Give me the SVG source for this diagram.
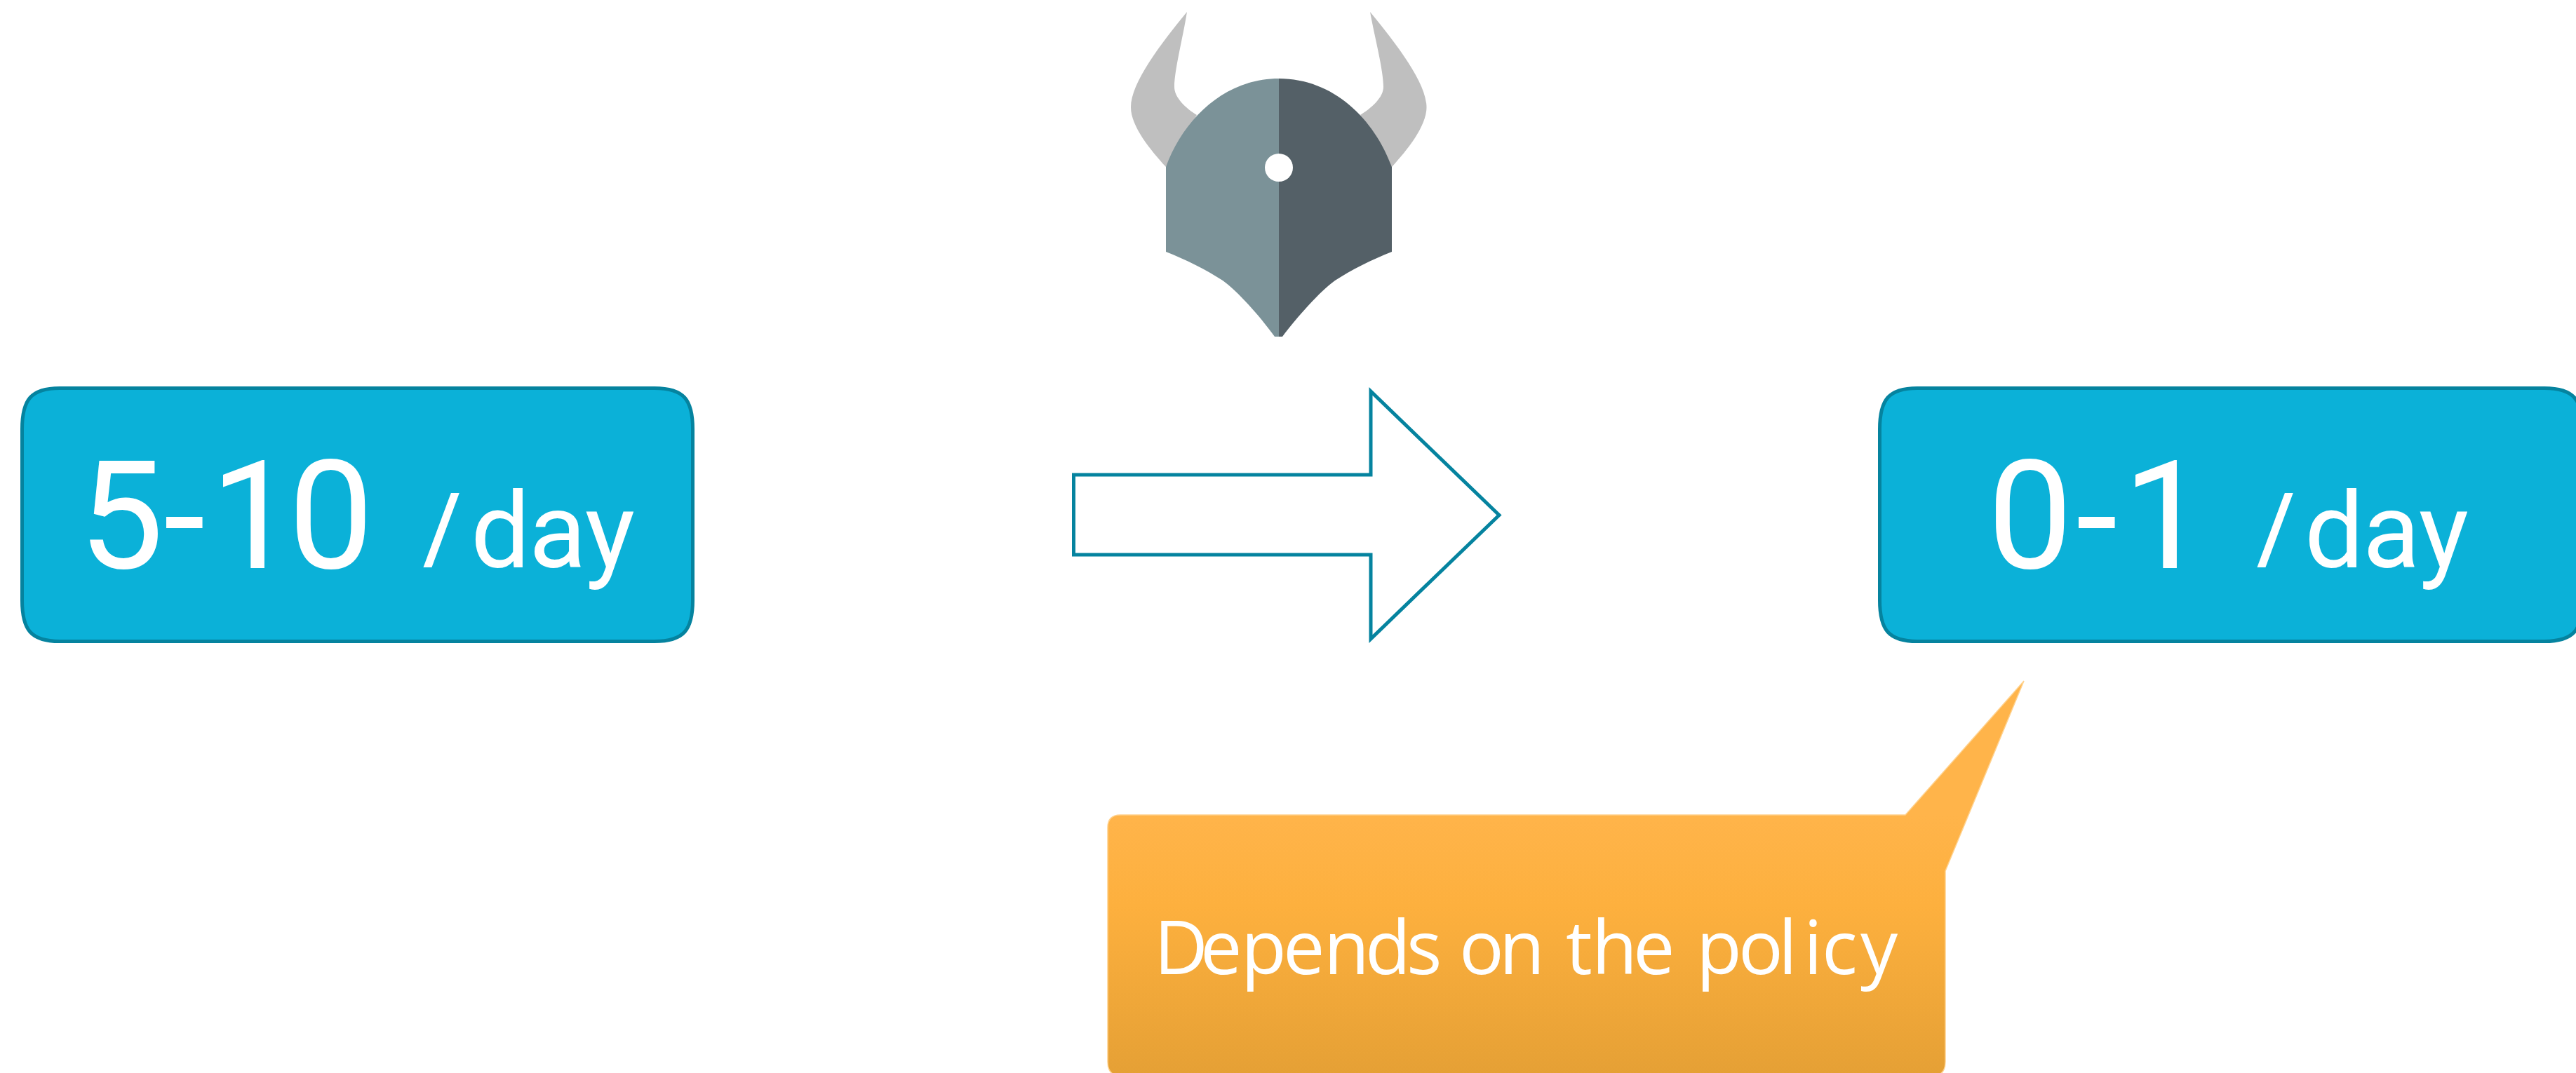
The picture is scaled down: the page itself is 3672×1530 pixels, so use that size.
<svg xmlns="http://www.w3.org/2000/svg" width="3672" height="1530" viewBox="0 0 3672 1530">
<style>
text{fill:#fff}
.big{font-family:Roboto,"Open Sans",sans-serif;font-size:216px}
.small{font-family:Roboto,"Open Sans",sans-serif;font-size:150px}
.slash{font-family:"Open Sans","Noto Sans",sans-serif;font-size:148px}
.note{font-family:"Open Sans","Noto Sans",sans-serif;font-size:106px}
.box{fill:#0bb1d8;stroke:#05839f;stroke-width:5}
</style>
<defs>
<linearGradient id="orange" x1="0" y1="1162" x2="0" y2="1534" gradientUnits="userSpaceOnUse">
<stop offset="0" stop-color="#ffb44a"/><stop offset="0.35" stop-color="#fdb03e"/><stop offset="1" stop-color="#e5a035"/>
</linearGradient>
</defs>
<rect width="3672" height="1530" fill="#fff"/>
<g id="helmet">
<path fill="#bfbfbf" d="M1692,17C1655,62 1612,118 1612,153C1612,180 1640,214 1662,238L1706,164C1690,154 1674,139 1674,124C1674,100 1686,55 1692,17Z"/>
<path fill="#bfbfbf" d="M1953,17C1990,62 2033.500,118 2033.500,153C2033.500,180 2006,214 1984,238L1939,164C1955,154 1972,139 1972,124C1972,100 1960,55 1953,17Z"/>
<path fill="#7b9298" d="M1823,112C1745,112 1687,170 1662,238V359C1690,370 1720,385 1743,400C1765,416 1795,450 1817,480H1823Z"/>
<path fill="#546067" d="M1823,112C1901,112 1959,170 1984,238V359C1956,370 1926,385 1903,400C1881,416 1851,450 1828,480H1823Z"/>
<circle cx="1823" cy="239" r="20" fill="#fff"/>
</g>
<g id="box-before">
<path class="box" d="M85,553.500H933C975,553.500 987.500,570 987.500,612V856C987.500,898 975,914.500 933,914.500H85C44,914.500 31.500,898 31.500,856V612C31.500,570 44,553.500 85,553.500Z"/>
<text class="big" x="112 233 300 411" y="810">5-10</text>
<text class="small" y="809"><tspan class="slash" x="602">/</tspan><tspan x="671 754 834">day</tspan></text>
</g>
<g id="connectors">
<path fill="#fff" stroke="#05839f" stroke-width="5" stroke-miterlimit="10" d="M1530.500,677H1954V558L2137,734.500L1954,911V791H1530.500Z"/>
</g>
<g id="box-after">
<path class="box" d="M2733,553.500H3627C3669,553.500 3681,570 3681,612V856C3681,898 3669,914.500 3627,914.500H2733C2692,914.500 2679.500,898 2679.500,856V612C2679.500,570 2692,553.500 2733,553.500Z"/>
<text class="big" x="2833 2959 3026" y="810">0-1</text>
<text class="small" y="809"><tspan class="slash" x="3216">/</tspan><tspan x="3285 3368 3448">day</tspan></text>
</g>
<g id="callout">
<path fill="url(#orange)" stroke="#ffd28f" stroke-width="1.500" d="M1597,1162H2716L2885,971L2773,1242V1514Q2773,1534 2755,1534H1597Q1579,1534 1579,1514V1180Q1579,1162 1597,1162Z"/>
<text class="note" x="1645 1711 1769 1829 1887 1946 2005 2050 2080 2137 2200 2232 2269 2328 2390 2418 2478 2535 2571 2597 2652" y="1389">Depends on the policy</text>
</g>
</svg>
